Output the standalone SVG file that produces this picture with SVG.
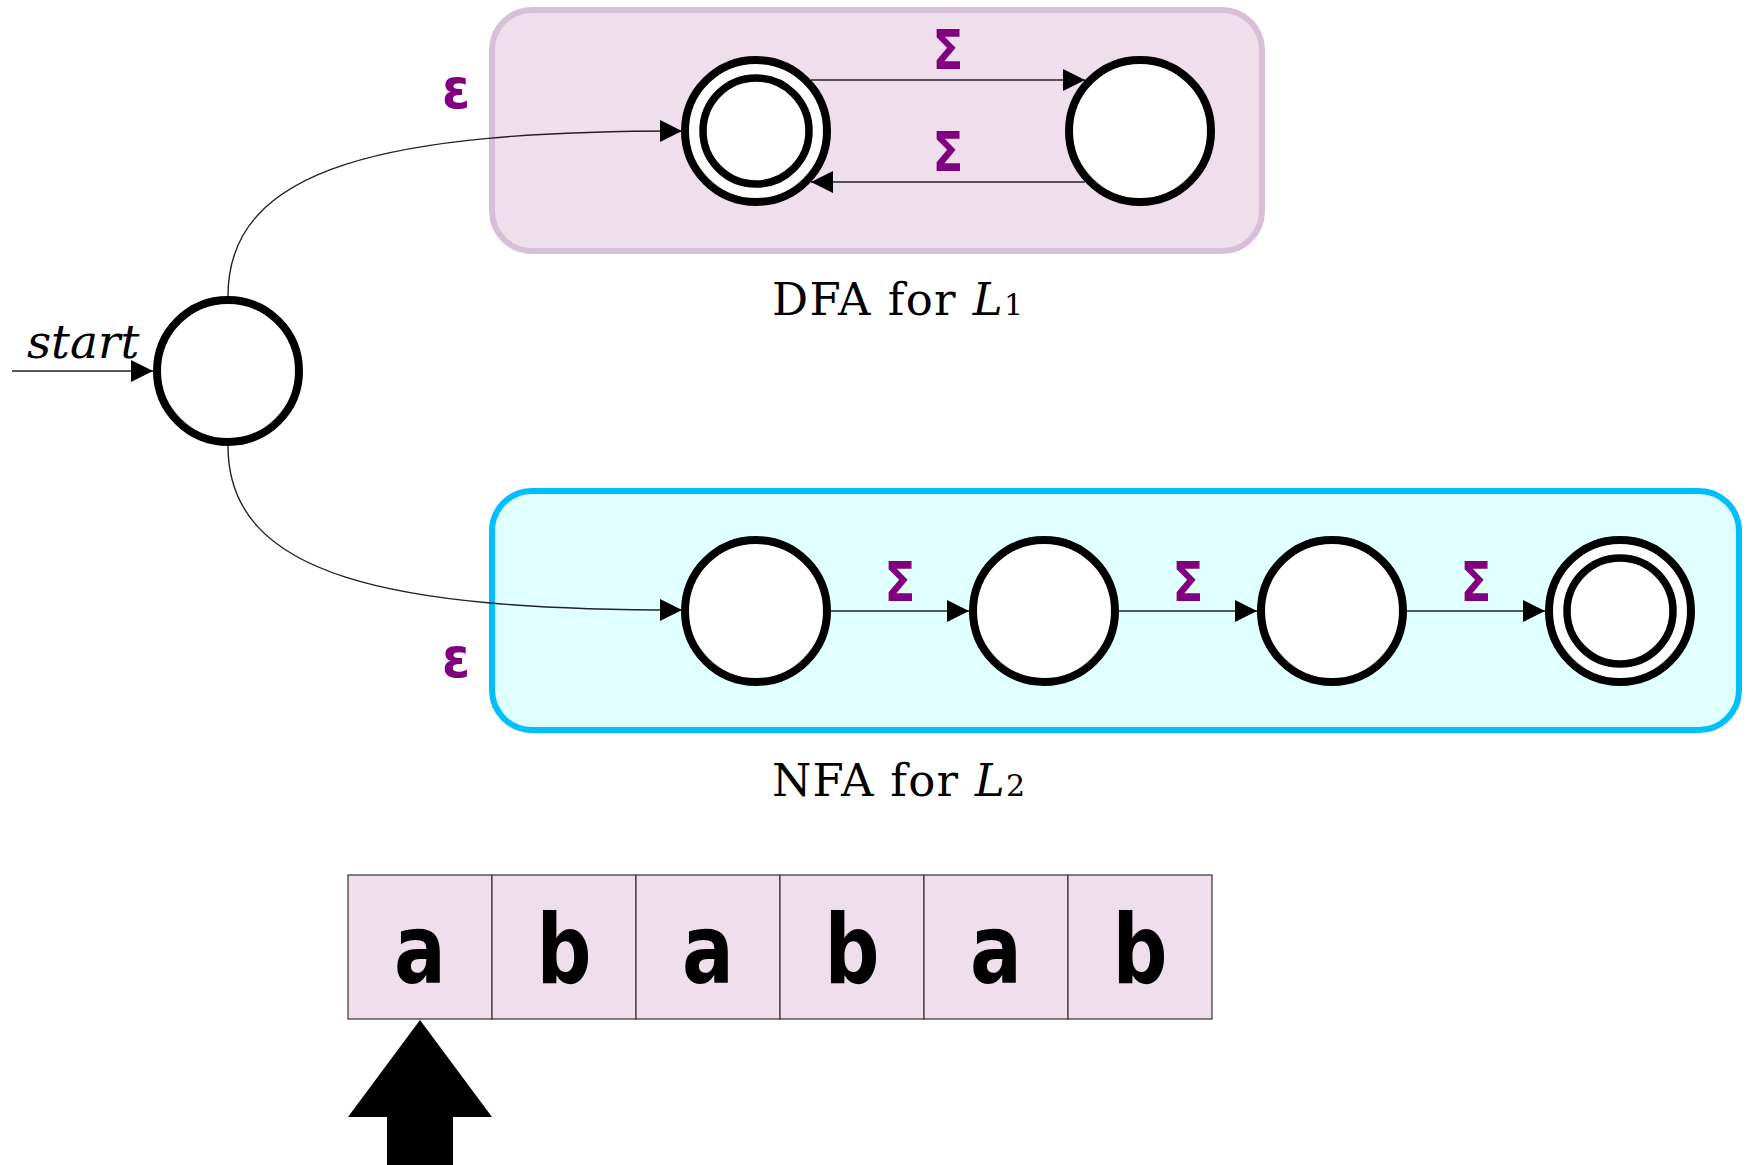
<svg xmlns="http://www.w3.org/2000/svg" width="1754" height="1165" viewBox="0 0 1754 1165">
<style>
.st{fill:#fff;stroke:#000;stroke-width:8}
.in{fill:none;stroke:#000;stroke-width:7.5}
.ln{fill:none;stroke:#222;stroke-width:1.4}
.sym{font-family:"DejaVu Sans",sans-serif;font-weight:bold;fill:#800080;font-size:55px;text-anchor:middle}
.cap{font-family:"DejaVu Serif",serif;font-size:45px;fill:#000}
.cell{fill:#EFDEEC;stroke:#333;stroke-width:1.2}
.ch{font-family:"DejaVu Sans",sans-serif;font-weight:bold;font-size:96px;fill:#000;text-anchor:middle}
</style>
<defs>
<marker id="ah" markerUnits="userSpaceOnUse" markerWidth="24" markerHeight="24" refX="22" refY="11" orient="auto">
<path d="M0,0 L22,11 L0,22 z" fill="#000"/>
</marker>
</defs>
<g id="dfa-box">
<rect x="492" y="10" width="770" height="241" rx="40" fill="#EFDEEC" stroke="#D8BFD8" stroke-width="6"/>
<text class="cap" x="772" y="315" textLength="251" lengthAdjust="spacing">DFA for <tspan font-style="italic">L</tspan><tspan font-size="30">1</tspan></text>
</g>
<g id="nfa-box">
<rect x="492" y="491" width="1247" height="239" rx="40" fill="#E0FFFF" stroke="#00BFFF" stroke-width="6"/>
<text class="cap" x="772" y="796" textLength="253" lengthAdjust="spacing">NFA for <tspan font-style="italic">L</tspan><tspan font-size="30">2</tspan></text>
</g>
<g id="connectors">
<line class="ln" x1="12" y1="371" x2="153" y2="371" marker-end="url(#ah)"/>
<path class="ln" d="M228,296 C228,165 390,131 682,131" marker-end="url(#ah)"/>
<path class="ln" d="M228,446 C228,577 390,610 682,610" marker-end="url(#ah)"/>
<line class="ln" x1="811" y1="80" x2="1085" y2="80" marker-end="url(#ah)"/>
<line class="ln" x1="1085" y1="182" x2="811" y2="182" marker-end="url(#ah)"/>
<line class="ln" x1="831" y1="611" x2="969" y2="611" marker-end="url(#ah)"/>
<line class="ln" x1="1119" y1="611" x2="1257" y2="611" marker-end="url(#ah)"/>
<line class="ln" x1="1407" y1="611" x2="1545" y2="611" marker-end="url(#ah)"/>
<text class="sym" transform="translate(456,108) scale(0.92,1)">ε</text>
<text class="sym" transform="translate(456,677) scale(0.92,1)">ε</text>
<text class="sym" transform="translate(948,69) scale(0.82,1)">Σ</text>
<text class="sym" transform="translate(948,171) scale(0.82,1)">Σ</text>
<text class="sym" transform="translate(900,601) scale(0.82,1)">Σ</text>
<text class="sym" transform="translate(1188,601) scale(0.82,1)">Σ</text>
<text class="sym" transform="translate(1476,601) scale(0.82,1)">Σ</text>
<text x="27" y="358" font-family="DejaVu Serif, serif" font-style="italic" font-size="47">start</text>
</g>
<g id="q0"><circle class="st" cx="228" cy="371" r="71"/></g>
<g id="d1"><circle class="st" cx="756" cy="131" r="71"/><circle class="in" cx="756" cy="131" r="53"/></g>
<g id="d2"><circle class="st" cx="1140" cy="131" r="71"/></g>
<g id="n1"><circle class="st" cx="756" cy="611" r="71"/></g>
<g id="n2"><circle class="st" cx="1044" cy="611" r="71"/></g>
<g id="n3"><circle class="st" cx="1332" cy="611" r="71"/></g>
<g id="n4"><circle class="st" cx="1620" cy="611" r="71"/><circle class="in" cx="1620" cy="611" r="53"/></g>
<g id="tape">
<rect class="cell" x="348" y="875" width="144" height="144"/>
<rect class="cell" x="492" y="875" width="144" height="144"/>
<rect class="cell" x="636" y="875" width="144" height="144"/>
<rect class="cell" x="780" y="875" width="144" height="144"/>
<rect class="cell" x="924" y="875" width="144" height="144"/>
<rect class="cell" x="1068" y="875" width="144" height="144"/>
<text class="ch" transform="translate(420,983) scale(0.8,1)">a</text>
<text class="ch" transform="translate(564,983) scale(0.8,1)">b</text>
<text class="ch" transform="translate(708,983) scale(0.8,1)">a</text>
<text class="ch" transform="translate(852,983) scale(0.8,1)">b</text>
<text class="ch" transform="translate(996,983) scale(0.8,1)">a</text>
<text class="ch" transform="translate(1140,983) scale(0.8,1)">b</text>
</g>
<g id="pointer">
<polygon points="420,1020 492,1117 453,1117 453,1165 387,1165 387,1117 348,1117" fill="#000"/>
</g>
</svg>
